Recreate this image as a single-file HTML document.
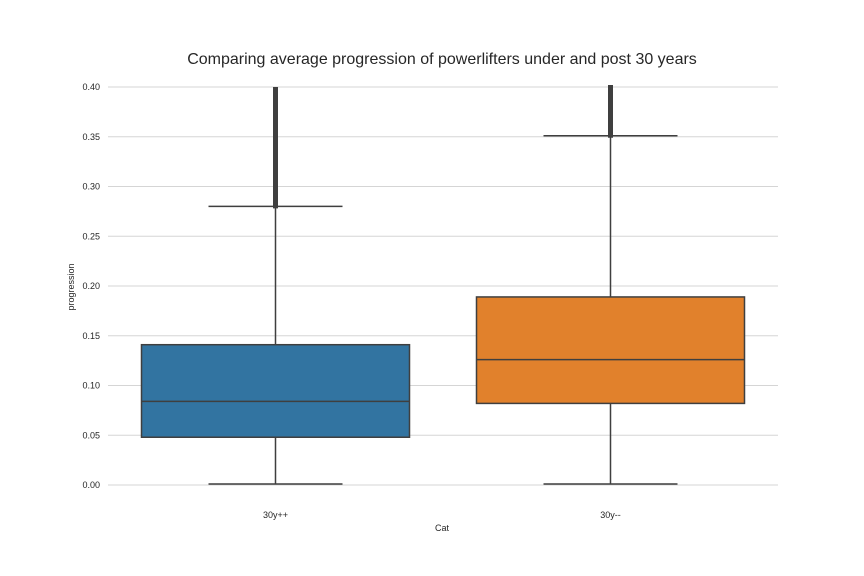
<!DOCTYPE html>
<html><head><meta charset="utf-8"><style>
body{margin:0;background:#fff;}
svg{display:block;font-family:"Liberation Sans",sans-serif;}
</style></head><body>
<svg id="c" width="864" height="576">
<rect width="864" height="576" fill="#fff"/>
<text x="442" y="64" text-anchor="middle" font-size="16" fill="#262626">Comparing average progression of powerlifters under and post 30 years</text>
<g id="grid"></g><g id="boxes"></g>
<text x="442" y="531" text-anchor="middle" font-size="9" fill="#262626">Cat</text>
<text transform="translate(74,287) rotate(-90)" text-anchor="middle" font-size="9" fill="#262626">progression</text>
</svg>
<script>
const categories=["30y++","30y--"];
const colors=["#3274a1","#e1812c"];
const whiskLow=[0.001,0.001];
const q1=[0.048,0.082];
const median=[0.084,0.126];
const q3=[0.141,0.189];
const whiskHigh=[0.280,0.351];
const outlierMax=[0.398,0.400];
const yTicks=[0,0.05,0.1,0.15,0.2,0.25,0.3,0.35,0.4];
const NS="http://www.w3.org/2000/svg";
const x0=108,x1=778,yb=485,yt=87;
const y=v=>yb-(v/0.4)*(yb-yt);
const band=(x1-x0)/categories.length;
const xc=i=>x0+band*(i+0.5);
function mk(p,t,a){const e=document.createElementNS(NS,t);for(const k in a)e.setAttribute(k,a[k]);p.appendChild(e);return e;}
const g=document.getElementById('grid'),b=document.getElementById('boxes');
yTicks.forEach(v=>{
 const l=mk(g,'line',{x1:x0,x2:x1,y1:y(v),y2:y(v),stroke:'#d5d5d5','stroke-width':1});
 
 
 const t=mk(g,'text',{x:x0-8,y:y(v)+3,'text-anchor':'end','font-size':9,fill:'#262626'});
 t.textContent=v.toFixed(2);
 
 
});
categories.forEach((c,i)=>{
 const cx=xc(i),w=band*0.8,cw=w/2,st='#3f3f3f';
 const wl=mk(b,'line',{x1:cx,x2:cx,y1:y(whiskLow[i]),y2:y(whiskHigh[i]),stroke:st,'stroke-width':1.5});
 
 
 const r=mk(b,'rect',{x:cx-w/2,y:y(q3[i]),width:w,height:y(q1[i])-y(q3[i]),fill:colors[i],stroke:st,'stroke-width':1.5});
 
 
 const m=mk(b,'line',{x1:cx-w/2,x2:cx+w/2,y1:y(median[i]),y2:y(median[i]),stroke:st,'stroke-width':1.5});
 
 
 [whiskLow[i],whiskHigh[i]].forEach(v=>{
  const cp=mk(b,'line',{x1:cx-cw/2,x2:cx+cw/2,y1:y(v),y2:y(v),stroke:st,'stroke-width':1.5});
  
  
 });
 const o=mk(b,'line',{x1:cx,x2:cx,y1:y(whiskHigh[i])+2,y2:y(outlierMax[i])-2,stroke:st,'stroke-width':5});
 
 
 const t=mk(b,'text',{x:cx,y:518,'text-anchor':'middle','font-size':9,fill:'#262626'});
 t.textContent=c;
 
 
});
</script>
</body></html>
